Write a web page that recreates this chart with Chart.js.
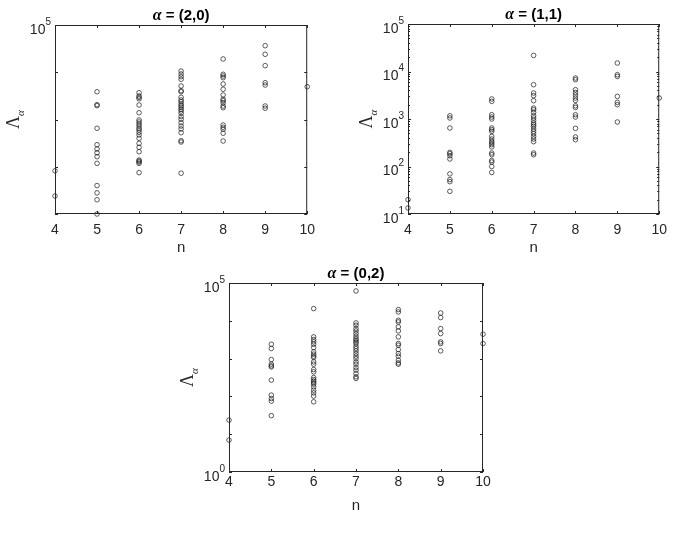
<!DOCTYPE html>
<html>
<head>
<meta charset="utf-8">
<script src="https://cdn.jsdelivr.net/npm/chart.js@4.4.0/dist/chart.umd.min.js"></script>
<style>
  body { margin: 0; background: #fff; width: 675px; height: 542px; position: relative; overflow: hidden; }
  canvas { position: absolute; }
</style>
</head>
<body>
<canvas id="c20"></canvas>
<canvas id="c11"></canvas>
<canvas id="c02"></canvas>
<script>
// n on the x axis
const nValues = [4, 5, 6, 7, 8, 9, 10];

// Lambda values for alpha = (2,0), one list per n
const lam20 = [
  [82, 24],
  [3870, 2060, 1960, 652, 293, 238, 198, 163, 118, 40, 28, 20, 10],
  [3690, 3140, 2950, 2750, 2030, 1390, 975, 885, 803, 728, 652, 600, 536, 470, 400, 313, 258, 208, 139, 132, 126, 118, 75],
  [10600, 9180, 8050, 7100, 5120, 4070, 3870, 2950, 2590, 2380, 2130, 1960, 1810, 1640, 1510, 1350, 1150, 1010, 855, 728, 630, 526, 356, 334, 73],
  [19100, 9060, 8330, 7670, 5640, 4360, 3300, 2680, 2500, 2270, 1930, 1780, 765, 684, 621, 511, 351],
  [36500, 24000, 13800, 6010, 5370, 1930, 1730],
  [4940]
];

// alpha = (1,1)
const lam11 = [
  [20, 13.4],
  [1170, 1050, 647, 198, 186, 169, 144, 70, 53, 48, 30],
  [2640, 2350, 1230, 1100, 1000, 647, 596, 548, 430, 379, 337, 313, 288, 258, 192, 177, 134, 124, 100, 75],
  [21800, 5270, 3520, 3100, 2430, 1700, 1570, 1380, 1170, 1050, 935, 824, 759, 698, 615, 548, 491, 430, 379, 333, 192, 177],
  [7300, 6710, 4140, 3630, 3200, 2770, 2460, 1900, 1750, 1230, 1100, 634, 418, 366],
  [15100, 8560, 7890, 2990, 2240, 2000, 865],
  [2770]
];

// alpha = (0,2)
const lam02 = [
  [23.6, 7.0],
  [2400, 1850, 945, 711, 643, 605, 269, 108, 88, 75, 31],
  [21000, 3750, 3190, 2770, 2400, 1960, 1510, 1310, 1160, 1070, 820, 711, 514, 447, 316, 280, 253, 229, 211, 179, 146, 124, 102, 72],
  [61500, 8790, 7620, 6220, 5400, 4590, 3910, 3390, 3060, 2770, 2500, 2120, 1850, 1600, 1360, 1160, 1000, 820, 711, 581, 494, 404, 330, 298],
  [19800, 17100, 10300, 9330, 6890, 5400, 3750, 2500, 2260, 1730, 1360, 1160, 908, 771, 711],
  [16100, 12200, 6220, 4590, 2770, 2500, 1600],
  [4410, 2500]
];

// y tick exponents (marks) and the ones that get a label
const decadesA = [1, 2, 3, 4, 5];
const labelsA = [5];
const decadesB = [1, 2, 3, 4, 5];
const labelsB = [1, 2, 3, 4, 5];
const decadesC = [0, 1, 2, 3, 4, 5];
const labelsC = [0, 5];

const titles = ['(2,0)', '(1,1)', '(0,2)'];

const SANS = '"Liberation Sans", Arial, sans-serif';
const SERIF = '"Liberation Serif", "Times New Roman", serif';
const L = 55, T = 25, R = 13, B = 45;

function toPoints(lists) {
  const pts = [];
  lists.forEach((vals, i) => {
    vals.forEach(v => pts.push({ x: nValues[i], y: v }));
  });
  return pts;
}

// box, inner ticks, tick labels with exponents, titles
const frame = {
  id: 'frame',
  afterDatasetsDraw(chart, args, o) {
    const { ctx, chartArea: a, scales: { x, y } } = chart;
    ctx.save();
    ctx.strokeStyle = '#262626';
    ctx.lineWidth = 1;
    ctx.strokeRect(a.left + 0.5, a.top + 0.5, a.right - a.left - 1, a.bottom - a.top - 1);

    ctx.beginPath();
    nValues.forEach(v => {
      const px = Math.round(x.getPixelForValue(v)) + 0.5;
      ctx.moveTo(px, a.bottom); ctx.lineTo(px, a.bottom - 3);
      ctx.moveTo(px, a.top); ctx.lineTo(px, a.top + 3);
    });
    o.decades.forEach(k => {
      const py = Math.round(y.getPixelForValue(Math.pow(10, k))) + 0.5;
      ctx.moveTo(a.left, py); ctx.lineTo(a.left + 3, py);
      ctx.moveTo(a.right, py); ctx.lineTo(a.right - 3, py);
      if (o.minor && k < o.decades[o.decades.length - 1]) {
        for (let m = 2; m <= 9; m++) {
          const pm = Math.round(y.getPixelForValue(m * Math.pow(10, k))) + 0.5;
          ctx.moveTo(a.left, pm); ctx.lineTo(a.left + 2, pm);
          ctx.moveTo(a.right, pm); ctx.lineTo(a.right - 2, pm);
        }
      }
    });
    ctx.stroke();

    // y tick labels 10^k
    ctx.fillStyle = '#262626';
    ctx.textBaseline = 'middle';
    o.labels.forEach(k => {
      const py = y.getPixelForValue(Math.pow(10, k));
      ctx.font = '10px ' + SANS;
      const ew = ctx.measureText(String(k)).width;
      ctx.textAlign = 'right';
      ctx.fillText(String(k), a.left - 4, py - 3);
      ctx.font = '14px ' + SANS;
      ctx.fillText('10', a.left - 4 - ew, py + 5);
    });

    // title
    const cx = (a.left + a.right) / 2;
    ctx.fillStyle = '#000';
    ctx.font = 'italic bold 16px ' + SERIF;
    const aw = ctx.measureText('\u03b1').width;
    ctx.font = 'bold 15px ' + SANS;
    const rest = ' = ' + o.title;
    const rw = ctx.measureText(rest).width;
    const tx = cx - (aw + rw) / 2;
    const ty = a.top - 9;
    ctx.textAlign = 'left';
    ctx.font = 'italic bold 16px ' + SERIF;
    ctx.fillText('\u03b1', tx, ty);
    ctx.font = 'bold 15px ' + SANS;
    ctx.fillText(rest, tx + aw, ty);

    // x label
    ctx.fillStyle = '#262626';
    ctx.textAlign = 'center';
    ctx.textBaseline = 'alphabetic';
    ctx.font = '15px ' + SANS;
    ctx.fillText('n', cx, a.bottom + o.nGap);

    // y label Lambda_alpha
    ctx.save();
    ctx.translate(a.left - 40, (a.top + a.bottom) / 2);
    ctx.rotate(-Math.PI / 2);
    ctx.font = '18px ' + SERIF;
    const lw = ctx.measureText('\u039b').width;
    ctx.textAlign = 'left';
    ctx.fillText('\u039b', -lw / 2 - 3, 4);
    ctx.font = 'italic 11px ' + SERIF;
    ctx.fillText('\u03b1', lw / 2 - 3, 9);
    ctx.restore();

    ctx.restore();
  }
};

function makeChart(id, rect, lists, yMin, decades, labels, minor, title, tickPad, nGap) {
  const cv = document.getElementById(id);
  cv.width = L + rect.w + R;
  cv.height = T + rect.h + B;
  cv.style.left = (rect.x - L) + 'px';
  cv.style.top = (rect.y - T) + 'px';
  new Chart(cv, {
    type: 'scatter',
    data: {
      datasets: [{
        data: toPoints(lists),
        pointStyle: 'circle',
        pointRadius: 2.3,
        pointHoverRadius: 2.3,
        borderWidth: 0.7,
        borderColor: '#1a1a1a',
        backgroundColor: 'rgba(0,0,0,0)',
        clip: false
      }]
    },
    options: {
      responsive: false,
      animation: false,
      layout: { padding: { left: 0, right: R, top: T, bottom: 0 } },
      plugins: {
        legend: { display: false },
        tooltip: { enabled: false },
        frame: { decades, labels, minor, title, nGap }
      },
      scales: {
        x: {
          type: 'linear',
          min: 4, max: 10,
          grid: { display: false, drawTicks: false },
          border: { display: false },
          ticks: {
            stepSize: 1, autoSkip: false, maxRotation: 0,
            padding: tickPad,
            color: '#262626',
            font: { family: SANS, size: 14 }
          },
          afterFit: s => { s.height = B; }
        },
        y: {
          type: 'logarithmic',
          min: Math.pow(10, yMin), max: 1e5,
          grid: { display: false, drawTicks: false },
          border: { display: false },
          ticks: { display: false },
          afterFit: s => { s.width = L; }
        }
      }
    },
    plugins: [frame]
  });
}

makeChart('c20', { x: 55, y: 25, w: 255, h: 189 }, lam20, 1, decadesA, labelsA, false, titles[0], 8, 38);
makeChart('c11', { x: 408, y: 24, w: 254, h: 190 }, lam11, 1, decadesB, labelsB, true, titles[1], 8, 38);
makeChart('c02', { x: 229, y: 283, w: 254, h: 189 }, lam02, 0, decadesC, labelsC, false, titles[2], 2, 38);
</script>
</body>
</html>
